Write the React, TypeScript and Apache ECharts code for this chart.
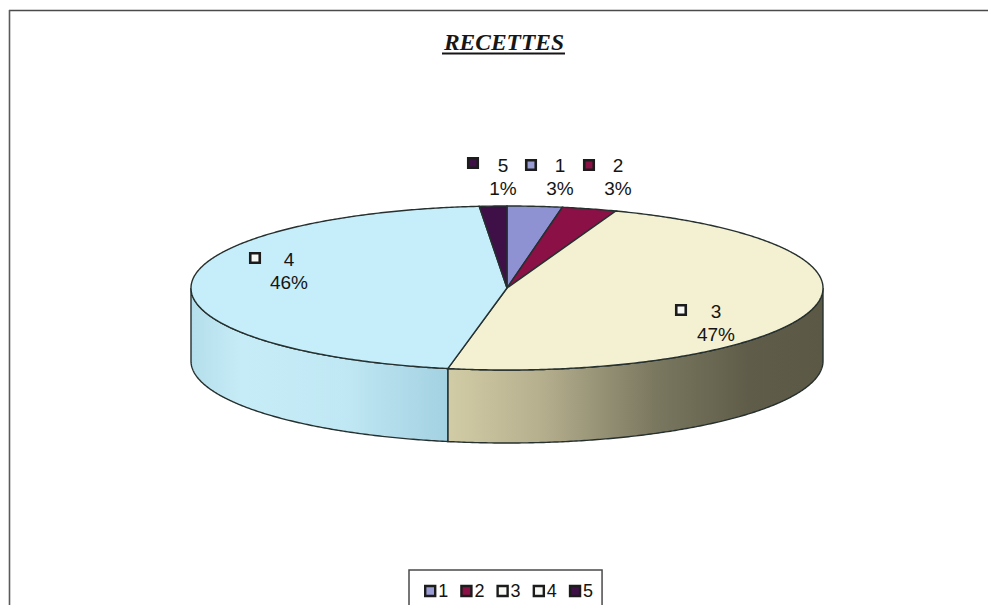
import React, { useEffect, useRef } from "react";
import * as echarts from "echarts";

const titleText = "RECETTES";
const categories = ["1", "2", "3", "4", "5"];
const values = [2.8, 2.8, 47.4, 45.6, 1.4];
const topColors = ["#8f92d2", "#8a1046", "#f3f1d2", "#c6eefa", "#3f1048"];
const markerColors = ["#9a9cd4", "#8a1046", "#f8f8f4", "#f8f8f4", "#3f1048"];

const sideStops: Record<string, [number, string][]> = {
  "3": [[0, "#d2cca6"], [0.25, "#b5af8e"], [0.55, "#7b7860"], [0.8, "#5f5d49"], [1, "#5b5945"]],
  "4": [[0, "#b4deeb"], [0.2, "#c6ecf7"], [0.6, "#c0e8f4"], [0.85, "#aed9e8"], [1, "#a3d2e2"]],
};

const labelSpots: Record<string, [number, number, number, number]> = {
  "1": [560, 177, 531, 165],
  "2": [618, 177, 589, 165],
  "3": [716, 323, 681, 310],
  "4": [289, 271, 255, 258],
  "5": [503, 177, 473, 163],
};

const CX = 507;
const CY = 288;
const RX = 316;
const RY = 82;
const DEPTH = 73;
const EDGE = "#26302f";
const FONT = '19px "Liberation Sans"';

const total = values.reduce((a, b) => a + b, 0);
const rimPoint = (deg: number, dy = 0): number[] => {
  const r = (deg * Math.PI) / 180;
  return [CX + RX * Math.sin(r), CY - RY * Math.cos(r) + dy];
};
const arcPoints = (from: number, to: number, dy = 0): number[][] => {
  const pts: number[][] = [];
  const n = Math.max(2, Math.ceil((to - from) * 2));
  for (let i = 0; i <= n; i++) pts.push(rimPoint(from + ((to - from) * i) / n, dy));
  return pts;
};

function sliceRenderer(index: number) {
  const before = values.slice(0, index).reduce((a, b) => a + b, 0);
  const start = (before / total) * 360;
  const end = ((before + values[index]) / total) * 360;
  const name = categories[index];
  return () => {
    const children: any[] = [];
    const sideFrom = Math.max(start, 90);
    const sideTo = Math.min(end, 270);
    if (sideTo > sideFrom) {
      const top = arcPoints(sideFrom, sideTo);
      const bottom = arcPoints(sideFrom, sideTo, DEPTH).reverse();
      const stops = (sideStops[name] || [[0, topColors[index]], [1, topColors[index]]]).map(
        ([offset, color]) => ({ offset, color })
      );
      children.push({
        type: "polygon",
        z2: 1,
        shape: { points: top.concat(bottom) },
        style: {
          fill: new echarts.graphic.LinearGradient(0, 0, 1, 0, stops),
          stroke: EDGE,
          lineWidth: 1.4,
        },
      });
    }
    children.push({
      type: "polygon",
      z2: 2,
      shape: { points: [[CX, CY] as number[]].concat(arcPoints(start, end)) },
      style: { fill: topColors[index], stroke: EDGE, lineWidth: 1.4 },
    });
    const [tx, ty, mx, my] = labelSpots[name];
    const pct = Math.round((values[index] / total) * 100);
    children.push({
      type: "rect",
      z2: 5,
      shape: { x: mx - 4.75, y: my - 4.75, width: 9.5, height: 9.5 },
      style: { fill: markerColors[index], stroke: "#1c1c1c", lineWidth: 2.6 },
    });
    children.push({
      type: "text",
      z2: 5,
      style: {
        x: tx,
        y: ty,
        text: `${name}\n${pct}%`,
        font: FONT,
        lineHeight: 23,
        fill: "#141414",
        align: "center",
        verticalAlign: "middle",
      },
    });
    return { type: "group", children };
  };
}

export default function App() {
  const ref = useRef<HTMLDivElement>(null);
  useEffect(() => {
    const chart = echarts.init(ref.current!, undefined, { renderer: "svg" });
    chart.setOption({
      animation: false,
      backgroundColor: "#ffffff",
      title: {
        text: titleText,
        left: 504,
        top: 42,
        textAlign: "center",
        textVerticalAlign: "middle",
        padding: 0,
        textStyle: {
          fontFamily: '"Liberation Serif"',
          fontSize: 23.5,
          fontWeight: "bold",
          fontStyle: "italic",
          color: "#161616",
        },
      },
      legend: {
        show: true,
        data: categories.map((name, i) => ({
          name,
          itemStyle: { color: markerColors[i] },
        })),
        left: 409,
        top: 570,
        orient: "horizontal",
        padding: [12, 9, 13, 15],
        itemWidth: 10,
        itemHeight: 10,
        itemGap: 12,
        icon: "rect",
        selectedMode: false,
        borderColor: "#4a4a4a",
        borderWidth: 1.5,
        backgroundColor: "#ffffff",
        textStyle: {
          fontFamily: '"Liberation Sans"',
          fontSize: 18,
          color: "#141414",
          padding: [0, 0, 0, -2],
        },
        itemStyle: { borderColor: "#1c1c1c", borderWidth: 2.4 },
      },
      graphic: [
        {
          type: "line",
          silent: true,
          shape: { x1: 9, y1: 10.5, x2: 988, y2: 10.5 },
          style: { stroke: "#4a4a4a", lineWidth: 1.6 },
        },
        {
          type: "line",
          silent: true,
          shape: { x1: 9.5, y1: 10, x2: 9.5, y2: 605 },
          style: { stroke: "#5a5a5a", lineWidth: 1.6 },
        },
        {
          type: "line",
          silent: true,
          shape: { x1: 442, y1: 53.5, x2: 565, y2: 53.5 },
          style: { stroke: "#161616", lineWidth: 2 },
        },
      ],
      series: categories.map((name, i) => ({
        type: "custom",
        name,
        coordinateSystem: "none",
        silent: true,
        itemStyle: { color: topColors[i] },
        data: [values[i]],
        renderItem: sliceRenderer(i),
      })),
    });
    return () => chart.dispose();
  }, []);
  return (
    <div
      ref={ref}
      style={{ position: "fixed", left: 0, top: 0, width: 988, height: 605, overflow: "hidden" }}
    />
  );
}
